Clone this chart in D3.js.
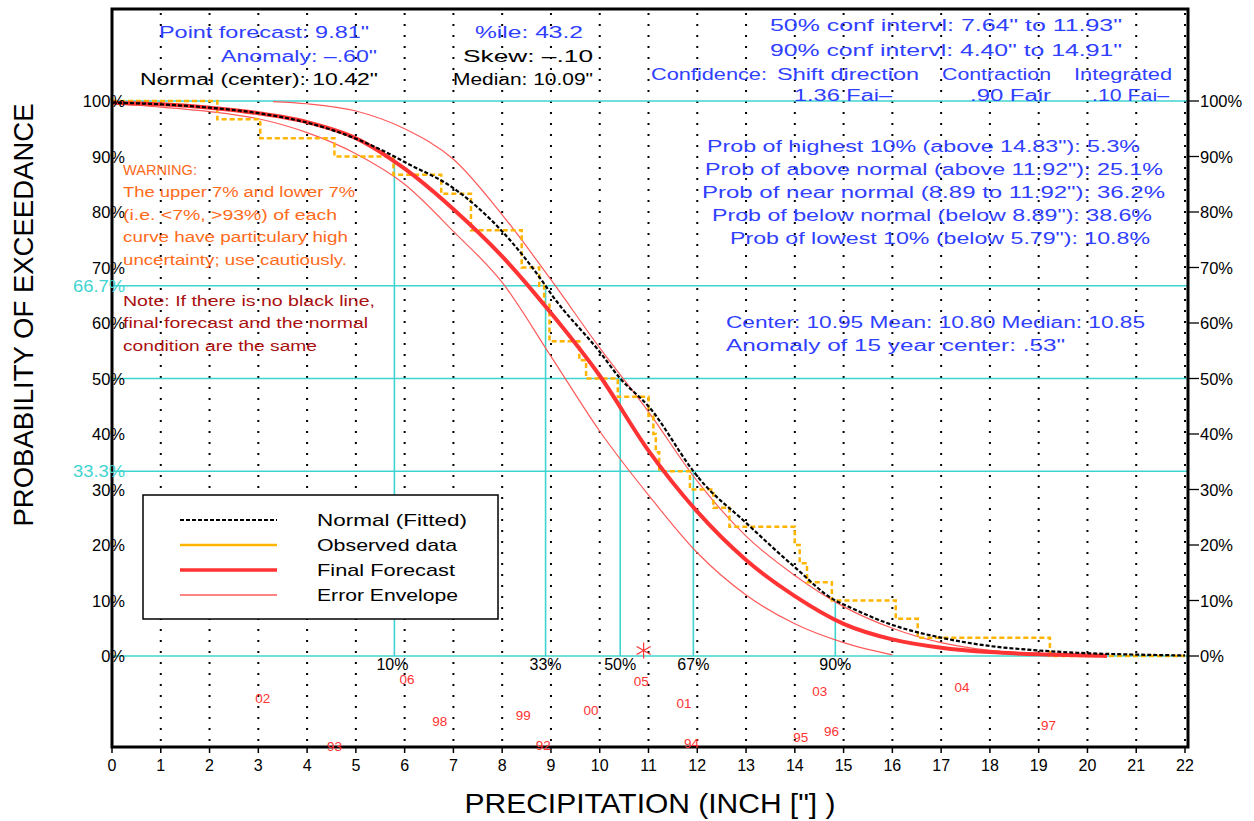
<!DOCTYPE html>
<html><head><meta charset="utf-8">
<script src="https://cdn.jsdelivr.net/npm/d3@7"></script>
<style>body{margin:0;background:#fff;} text{font-family:"Liberation Sans",Arial,sans-serif;}</style>
</head><body><svg id="c" width="1254" height="821"></svg>
<script>
// ---------- data ----------
const xTicks = d3.range(0, 23);
const yTicks = [0,10,20,30,40,50,60,70,80,90,100];
const cyanLevels = [0, 33.3, 50, 66.7, 100];

// Normal (fitted) exceedance curve
const normX = [0,1,2,3,4,5,5.79,6,7,8,8.89,9,10,10.42,11,11.92,12,13,14,14.83,15,16,17,18,19,20,21,22];
const normP = [99.7,99.4,98.8,97.8,96.1,93.2,90.0,89.0,84.3,76.5,66.7,65.3,54.8,50,45.0,33.3,32.4,24.0,16.0,10.0,9.3,5.6,3.3,1.8,1.0,0.5,0.25,0.1];

// Final forecast
const fcX = [0,1,2,3,4,5,6,7,8,9,10,11,12,13,14,15,16,17,18,19,20,20.4];
const fcP = [99.7,99.4,98.8,97.8,96.2,93.3,87.8,80.5,72.0,61.8,50.5,37.0,26.0,17.3,10.8,5.8,3.0,1.5,0.7,0.3,0.1,0];

// Error envelope (upper / lower)
const upX = [3.3,4,5,6,7,8,9,10,11,12,13,14,15,16,17,18,19,19.6];
const upP = [99.9,99.5,98.2,95.0,89.5,79.5,67.8,55.5,44.0,31.5,21.6,14.5,8.9,5.0,2.4,1.0,0.3,0];
const loX = [0,1,2,3,4,5,6,7,8,9,10,11,12,13,14,15,16];
const loP = [99.5,98.9,98.1,96.8,94.3,90.5,85.0,76.5,67.3,54.0,40.5,29.0,18.6,11.0,5.8,2.4,0.2];

// Observed data (step: value holds after each break)
const obsX = [0,2.16,3.04,4.56,5.77,6.75,7.36,8.40,8.76,8.86,8.97,9.58,9.72,10.37,11.0,11.1,11.15,11.22,11.85,12.33,12.66,14.0,14.1,14.25,14.76,16.07,16.52,19.23,22];
const obsP = [100,96.7,93.3,90.0,86.7,83.3,76.7,70.0,66.7,63.3,56.7,53.3,50.0,46.7,43.3,40.0,36.7,33.3,30.0,26.7,23.3,20.0,16.7,13.3,10.0,6.7,3.3,0,0];

// Quantile markers
const qLabels = ["10%","33%","50%","67%","90%"];
const qX = [5.79, 8.89, 10.42, 11.92, 14.83];
const qP = [90, 66.7, 50, 33.3, 10];

// Year labels (value, vertical slot in %)
const years = ["02","06","93","98","99","92","00","05","01","94","95","96","03","04","97"];
const yearX = [3.09,6.05,4.56,6.72,8.43,8.84,9.82,10.85,11.73,11.88,14.12,14.75,14.51,17.43,19.2];
const yearP = [-7.6,-4.2,-16.3,-11.7,-10.6,-16.0,-9.7,-4.5,-8.4,-15.6,-14.6,-13.5,-6.3,-5.6,-12.4];

const star = [10.9, 1.0];

// ---------- scales ----------
const svg = d3.select("#c");
const x = d3.scaleLinear().domain([0,22]).range([112,1185]);
const y = d3.scaleLinear().domain([0,100]).range([656,101]);
const L=112, R=1188, T=9, B=747;

const BLUE="#3040ff", CYAN="#40d4d0", ORANGE="#ffb400", RED="#ff3333", ENV="#ff5a5a", WARN="#ff6a1a", NOTE="#aa1010";

// vertical dotted grid
svg.append("g").selectAll("line").data(xTicks.filter(d=>d>0)).join("line")
  .attr("x1",d=>x(d)).attr("x2",d=>x(d)).attr("y1",T+4).attr("y2",B)
  .attr("stroke","#000").attr("stroke-width",2).attr("stroke-dasharray","2,9");

// cyan horizontal lines
svg.append("g").selectAll("line").data(cyanLevels).join("line")
  .attr("x1",L).attr("x2",R).attr("y1",d=>y(d)).attr("y2",d=>y(d))
  .attr("stroke",CYAN).attr("stroke-width",1.6);

// cyan vertical quantile lines
svg.append("g").selectAll("line").data(qX).join("line")
  .attr("x1",d=>x(d)).attr("x2",d=>x(d)).attr("y1",(d,i)=>y(qP[i])).attr("y2",y(0))
  .attr("stroke",CYAN).attr("stroke-width",1.6);

// curves
const lineGen = d3.line().x(d=>x(d[0])).y(d=>y(d[1])).curve(d3.curveMonotoneX);
const zip=(a,b)=>a.map((v,i)=>[v,b[i]]);
svg.append("path").attr("d",lineGen(zip(loX,loP))).attr("fill","none").attr("stroke",ENV).attr("stroke-width",1.2);
svg.append("path").attr("d",lineGen(zip(upX,upP))).attr("fill","none").attr("stroke",ENV).attr("stroke-width",1.2);
svg.append("path").attr("d",d3.line().x(d=>x(d[0])).y(d=>y(d[1])).curve(d3.curveStepAfter)(zip(obsX,obsP)))
  .attr("fill","none").attr("stroke",ORANGE).attr("stroke-width",2.5).attr("stroke-dasharray","5,3");
svg.append("path").attr("d",lineGen(zip(fcX,fcP))).attr("fill","none").attr("stroke",RED).attr("stroke-width",4);
svg.append("path").attr("d",lineGen(zip(normX,normP))).attr("fill","none").attr("stroke","#000").attr("stroke-width",2.2).attr("stroke-dasharray","4,2");

// star
const sx=x(star[0]), sy=y(star[1]);
[[0,8],[7,4],[7,-4]].forEach(([dx,dy])=>{
  svg.append("line").attr("x1",sx-dx).attr("x2",sx+dx).attr("y1",sy-dy).attr("y2",sy+dy).attr("stroke",RED).attr("stroke-width",1.2);
});

// frame
svg.append("rect").attr("x",L).attr("y",T).attr("width",R-L).attr("height",B-T)
  .attr("fill","none").attr("stroke","#000").attr("stroke-width",3);

// bottom ticks + labels
const gx = svg.append("g");
gx.selectAll("line").data(xTicks).join("line").attr("x1",d=>x(d)).attr("x2",d=>x(d)).attr("y1",B).attr("y2",B+6).attr("stroke","#000").attr("stroke-width",1.5);
gx.selectAll("text").data(xTicks).join("text").attr("x",d=>x(d)).attr("y",771).attr("text-anchor","middle").attr("font-size",16).text(d=>d);

// left y labels
svg.append("g").selectAll("text").data(yTicks).join("text").attr("x",125).attr("y",d=>y(d)+6)
  .attr("text-anchor","end").attr("font-size",16.5).text(d=>d+"%");
// right ticks + labels
const gr = svg.append("g");
gr.selectAll("line").data(yTicks).join("line").attr("x1",R).attr("x2",R+11).attr("y1",d=>y(d)).attr("y2",d=>y(d)).attr("stroke","#000").attr("stroke-width",1.3);
gr.selectAll("text").data(yTicks).join("text").attr("x",R+12).attr("y",d=>y(d)+6).attr("font-size",16.5).text(d=>d+"%");

// cyan labels
[[66.7,"66.7%"],[33.3,"33.3%"]].forEach(([v,t])=>{
  svg.append("text").attr("x",73).attr("y",y(v)+6).attr("fill",CYAN).attr("font-size",16.5)
    .attr("textLength",52).attr("lengthAdjust","spacingAndGlyphs").text(t);
});

// quantile labels
svg.append("g").selectAll("text").data(qLabels).join("text")
  .attr("x",(d,i)=>x(qX[i])-(i===0?2:0)).attr("y",y(0)+14).attr("text-anchor","middle").attr("font-size",16).text(d=>d);

// year labels
svg.append("g").selectAll("text").data(years).join("text")
  .attr("x",(d,i)=>x(yearX[i])).attr("y",(d,i)=>y(yearP[i])+5).attr("text-anchor","middle")
  .attr("fill",RED).attr("font-size",13.5).text(d=>d);

// generic text helper
function txt(s, X, Y, w, color, size){
  const t = svg.append("text").attr("x",X).attr("y",Y).attr("fill",color).attr("font-size",size).text(s);
  if (w) t.attr("textLength",w).attr("lengthAdjust","spacingAndGlyphs");
  return t;
}
// top-left block
txt("Point forecast: 9.81\"",159,38,210,BLUE,16);
txt("Anomaly: \u2013.60\"",221,62,156,BLUE,16);
txt("Normal (center): 10.42\"",140,85,238,"#000",16);
txt("%ile:  43.2",475,38,108,BLUE,16);
txt("Skew:   \u2013.10",463,62,130,"#000",16);
txt("Median: 10.09\"",453,85,140,"#000",16);
// top-right block
txt("50% conf intervl: 7.64\" to 11.93\"",770,31,352,BLUE,16);
txt("90% conf intervl: 4.40\" to 14.91\"",770,56,352,BLUE,16);
txt("Confidence:",651,80,116,BLUE,16);
txt("Shift direction",777,80,142,BLUE,16);
txt("Contraction",942,80,109,BLUE,16);
txt("Integrated",1074,80,98,BLUE,16);
txt("1.36 Fai\u2013",794,101,98,BLUE,16);
txt(".90 Fair",970,101,81,BLUE,16);
txt(".10 Fai\u2013",1092,101,77,BLUE,16);
// probability block
txt("Prob of highest 10% (above 14.83\"): 5.3%",707,152,433,BLUE,16);
txt("Prob of above normal (above 11.92\"): 25.1%",705,175,458,BLUE,16);
txt("Prob of near normal (8.89 to 11.92\"): 36.2%",702,198,463,BLUE,16);
txt("Prob of below normal (below 8.89\"): 38.6%",712,221,440,BLUE,16);
txt("Prob of lowest 10% (below 5.79\"): 10.8%",730,244,420,BLUE,16);
// center block
txt("Center: 10.95 Mean: 10.80 Median: 10.85",726,328,419,BLUE,16);
txt("Anomaly of 15 year center:  .53\"",726,351,339,BLUE,16);
// warning
txt("WARNING:",123,175,74,WARN,14);
txt("The upper 7% and lower 7%",123,197,232,WARN,14);
txt("(i.e. <7%, >93%) of each",123,220,214,WARN,14);
txt("curve have particulary high",123,242,225,WARN,14);
txt("uncertainty; use cautiously.",123,265,224,WARN,14);
txt("Note: If there is no black line,",123,306,252,NOTE,14);
txt("final forecast and the normal",123,328,245,NOTE,14);
txt("condition are the same",123,351,194,NOTE,14);

// legend
svg.append("rect").attr("x",143).attr("y",495).attr("width",355).attr("height",124).attr("fill","#fff").attr("stroke","#000").attr("stroke-width",1.5);
const legItems = [
  {t:"Normal (Fitted)", c:"#000", w:2.2, d:"4,2", tw:150},
  {t:"Observed data", c:ORANGE, w:2.5, d:null, tw:140},
  {t:"Final Forecast", c:RED, w:3.5, d:null, tw:138},
  {t:"Error Envelope", c:ENV, w:1.3, d:null, tw:141}
];
legItems.forEach((it,i)=>{
  const yy = 520 + i*25;
  const l = svg.append("line").attr("x1",180).attr("x2",277).attr("y1",yy).attr("y2",yy).attr("stroke",it.c).attr("stroke-width",it.w);
  if (it.d) l.attr("stroke-dasharray",it.d);
  txt(it.t,317,yy+6,it.tw,"#000",17);
});

// axis titles
svg.append("text").attr("transform","translate(33,315) rotate(-90)").attr("text-anchor","middle")
  .attr("font-size",28).attr("textLength",423).attr("lengthAdjust","spacingAndGlyphs").text("PROBABILITY OF EXCEEDANCE");
svg.append("text").attr("x",650).attr("y",813).attr("text-anchor","middle")
  .attr("font-size",28).attr("textLength",371).attr("lengthAdjust","spacingAndGlyphs").text("PRECIPITATION (INCH [\"] )");
</script></body></html>
